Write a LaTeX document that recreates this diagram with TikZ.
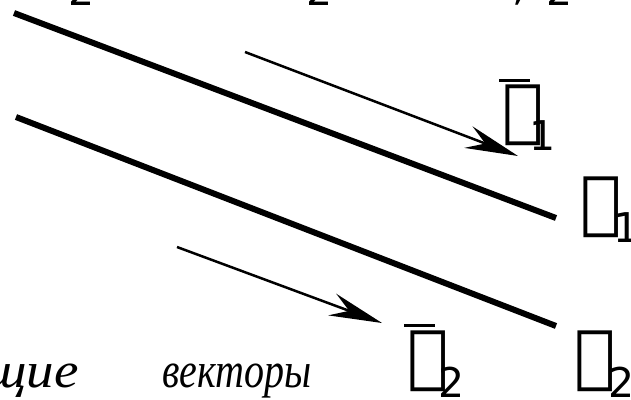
\documentclass[tikz,border=0pt]{standalone}
\usepackage{fontspec}
\setmainfont{Liberation Serif}
\newfontfamily\dejavu{DejaVu Sans}
\usepackage{graphicx}
\usetikzlibrary{arrows.meta}
\definecolor{inkblack}{HTML}{000000}
\tikzset{
  thickline/.style={inkblack, line width=6pt},
  thinarrow/.style={inkblack, line width=2.5pt, -{Stealth[length=53pt, width=23pt, inset=18pt]}},
  boxglyph/.style={inner sep=0pt, font=\dejavu\fontsize{69}{69}\selectfont},
  subdigit/.style={inner sep=0pt, anchor=base, font=\dejavu\fontsize{41}{41}\selectfont},
  barline/.style={inkblack, line width=3pt},
}
\newcommand{\tofu}{\XeTeXglyph 0\relax}

\begin{document}
\begin{tikzpicture}[x=1pt, y=-1pt]
        \useasboundingbox (0,0) rectangle (631,399);
        \fill[white] (0,0) rectangle (631,399);
        % lines and direction vectors
        \coordinate (l1s) at (14,13);
        \coordinate (l1e) at (556,218);
        \coordinate (l2s) at (16,117);
        \coordinate (l2e) at (556,326);
        \coordinate (v1s) at (245,52);
        \coordinate (v1e) at (518,156);
        \coordinate (v2s) at (177,247);
        \coordinate (v2e) at (382,323);
        \draw[thickline] (l1s) -- (l1e);
        \draw[thickline] (l2s) -- (l2e);
        \draw[thinarrow] (v1s) -- (v1e);
        \draw[thinarrow] (v2s) -- (v2e);
        % labels
        \node[boxglyph] (sb1) at (523.5,115.5) {\tofu};
        \node[subdigit] (sb1i) at (542.5,150) {1};
        \draw[barline] ([shift={(-24.5,-35.5)}]sb1.center) -- ++(31,0);
        \node[boxglyph] (s1) at (601.5,207.5) {\tofu};
        \node[subdigit] (s1i) at (627,242) {1};
        \node[boxglyph] (sb2) at (428,361.5) {\tofu};
        \node[subdigit] (sb2i) at (452,397) {2};
        \draw[barline] ([shift={(-24,-36.5)}]sb2.center) -- ++(31,0);
        \node[boxglyph] (s2) at (595.5,361.5) {\tofu};
        \node[subdigit] (s2i) at (622,397) {2};
        % cut text at the edges
        \node[subdigit] (t1) at (82,5) {2};
        \node[subdigit] (t2) at (320,5) {2};
        \node[subdigit] (t3) at (519,0) {,};
        \node[subdigit] (t4) at (559.5,5) {2};
        \node[inner sep=0pt, anchor=base east, font=\itshape\fontsize{50}{50}\selectfont]
          (cap) at (312,387) {\scalebox{1.1}[1]{направляющие}\hspace{84pt}\scalebox{0.8}[1]{векторы}};
      \end{tikzpicture}
\end{document}
